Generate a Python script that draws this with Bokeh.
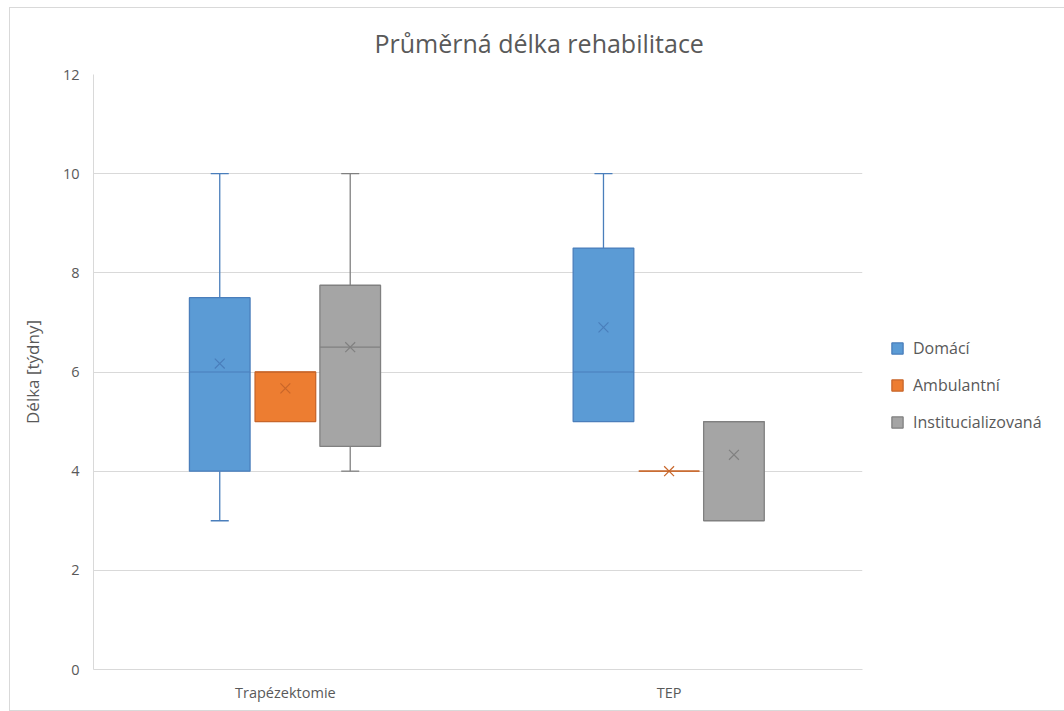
from bokeh.plotting import figure
from bokeh.models import Range1d, Legend, LegendItem, FixedTicker, ColumnDataSource
from bokeh.embed import file_html
from bokeh.resources import INLINE

categories = ["Trapézektomie", "TEP"]
series = ["Domácí", "Ambulantní", "Institucializovaná"]

# per series: values for [Trapézektomie, TEP]
mins_dom = [3, 5]
q1_dom = [4, 5]
med_dom = [6, 6]
q3_dom = [7.5, 8.5]
max_dom = [10, 10]
mean_dom = [6.17, 6.9]

mins_amb = [5, 4]
q1_amb = [5, 4]
med_amb = [6, 4]
q3_amb = [6, 4]
max_amb = [6, 4]
mean_amb = [5.67, 4.0]

mins_ins = [4, 3]
q1_ins = [4.5, 3]
med_ins = [6.5, 5]
q3_ins = [7.75, 5]
max_ins = [10, 5]
mean_ins = [6.5, 4.33]

y_ticks = [0, 2, 4, 6, 8, 10, 12]

stats = {
    "Domácí": (mins_dom, q1_dom, med_dom, q3_dom, max_dom, mean_dom),
    "Ambulantní": (mins_amb, q1_amb, med_amb, q3_amb, max_amb, mean_amb),
    "Institucializovaná": (mins_ins, q1_ins, med_ins, q3_ins, max_ins, mean_ins),
}
fills = {"Domácí": "#5B9BD5", "Ambulantní": "#ED7D31", "Institucializovaná": "#A5A5A5"}
lines = {"Domácí": "#4A7EBB", "Ambulantní": "#C8662A", "Institucializovaná": "#808080"}
offsets = {"Domácí": -0.171, "Ambulantní": 0.0, "Institucializovaná": 0.169}
BOX_W = 0.158
CAP_W = 0.047

FONT = "Open Sans"
TXT = "#595959"

p = figure(frame_width=769, frame_height=595, output_backend="svg", toolbar_location=None,
           x_range=Range1d(0.5, 2.504), y_range=Range1d(0, 12),
           min_border_left=83, min_border_right=10, min_border_top=66, min_border_bottom=41)
p.styles = {"border": "1px solid #D9D9D9"}
p.margin = (7, 0, 0, 9)
p.outline_line_color = None
p.background_fill_color = "white"
p.border_fill_color = "white"

p.title.text = "Průměrná délka rehabilitace"
p.title.align = "left"
p.title.offset = 281
p.title.text_font = FONT
p.title.text_font_size = "25px"
p.title.text_font_style = "normal"
p.title.text_color = TXT
p.title.standoff = 30

p.xgrid.grid_line_color = None
p.ygrid.grid_line_color = "#D9D9D9"
p.ygrid.ticker = FixedTicker(ticks=y_ticks)
p.yaxis.ticker = FixedTicker(ticks=y_ticks)
p.xaxis.ticker = FixedTicker(ticks=[1, 2])
p.xaxis.major_label_overrides = {1: categories[0], 2: categories[1]}

for ax in (p.xaxis[0], p.yaxis[0]):
    ax.axis_line_color = "#D9D9D9"
    ax.major_tick_line_color = None
    ax.minor_tick_line_color = None
    ax.major_label_text_font = FONT
    ax.major_label_text_color = TXT
    ax.major_label_text_font_size = "14.5px"
p.yaxis.major_label_standoff = 8
p.xaxis.major_label_standoff = 7
p.yaxis.axis_label = "Délka [týdny]"
p.yaxis.axis_label_text_font = FONT
p.yaxis.axis_label_text_font_size = "17px"
p.yaxis.axis_label_text_font_style = "normal"
p.yaxis.axis_label_text_color = TXT
p.yaxis.axis_label_standoff = 16

items = []
for s in series:
    mn, q1, md, q3, mx, me = stats[s]
    xs = [i + 1 + offsets[s] for i in range(len(categories))]
    src = ColumnDataSource(dict(x=xs, mn=mn, q1=q1, md=md, q3=q3, mx=mx, me=me,
                                xl=[x - BOX_W / 2 for x in xs], xr=[x + BOX_W / 2 for x in xs]))
    lo = [k for k in range(len(xs)) if mn[k] < q1[k]]
    hi = [k for k in range(len(xs)) if mx[k] > q3[k]]
    if lo:
        p.segment(x0=[xs[k] for k in lo], y0=[mn[k] for k in lo], x1=[xs[k] for k in lo], y1=[q1[k] for k in lo],
                  line_color=lines[s], line_width=1.3)
        p.segment(x0=[xs[k] - CAP_W / 2 for k in lo], y0=[mn[k] for k in lo],
                  x1=[xs[k] + CAP_W / 2 for k in lo], y1=[mn[k] for k in lo], line_color=lines[s], line_width=1.3)
    if hi:
        p.segment(x0=[xs[k] for k in hi], y0=[q3[k] for k in hi], x1=[xs[k] for k in hi], y1=[mx[k] for k in hi],
                  line_color=lines[s], line_width=1.3)
        p.segment(x0=[xs[k] - CAP_W / 2 for k in hi], y0=[mx[k] for k in hi],
                  x1=[xs[k] + CAP_W / 2 for k in hi], y1=[mx[k] for k in hi], line_color=lines[s], line_width=1.3)
    r = p.vbar(x="x", bottom="q1", top="q3", width=BOX_W, source=src,
               fill_color=fills[s], line_color=lines[s], line_width=1.3)
    p.segment(x0="xl", y0="md", x1="xr", y1="md", source=src, line_color=lines[s], line_width=1.2)
    p.scatter(x="x", y="me", source=src, marker="x", size=14, line_color=lines[s], line_width=1.2)
    items.append(LegendItem(label=s, renderers=[r]))

legend = Legend(items=items, location=(28, 236))
legend.border_line_color = None
legend.background_fill_color = None
legend.label_text_font = FONT
legend.label_text_color = TXT
legend.label_text_font_size = "16px"
legend.glyph_width = 14
legend.glyph_height = 14
legend.label_height = 14
legend.spacing = 15
legend.label_standoff = 9
legend.margin = 0
legend.padding = 10
p.add_layout(legend, "right")

open("out.html", "w").write(file_html(p, INLINE))
